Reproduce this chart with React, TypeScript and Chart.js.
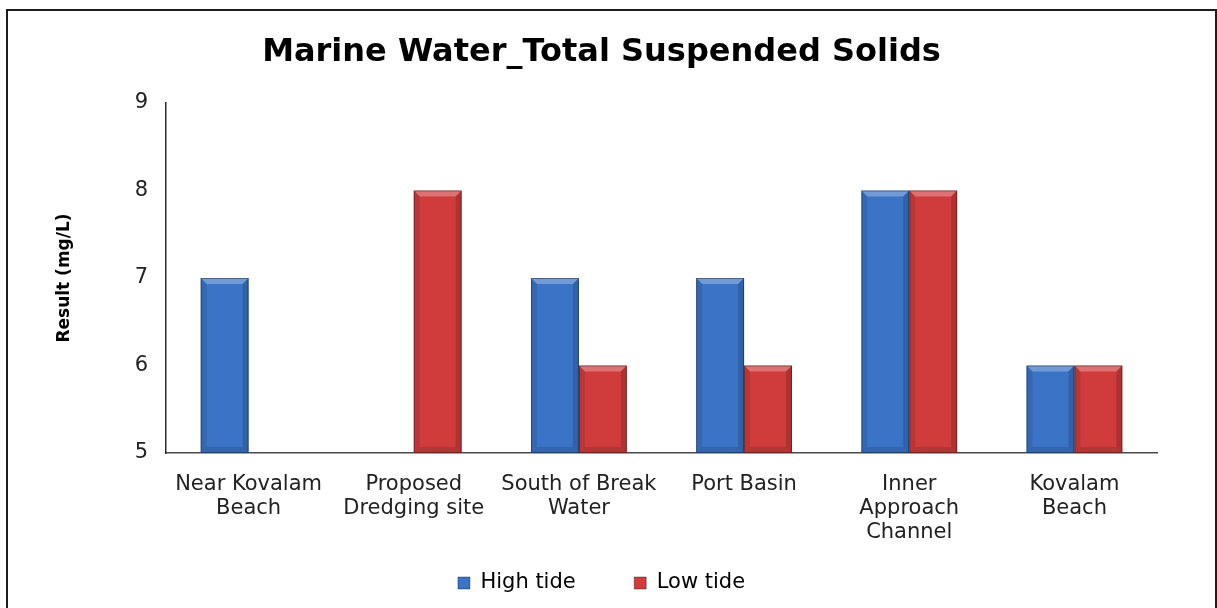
import React, { useEffect, useRef } from "react";
import { Chart, registerables } from "chart.js";

Chart.register(...registerables);

const categories: string[][] = [
  ["Near Kovalam", "Beach"],
  ["Proposed", "Dredging site"],
  ["South of Break", "Water"],
  ["Port Basin"],
  ["Inner", "Approach", "Channel"],
  ["Kovalam", "Beach"],
];
const highTide: (number | null)[] = [7, null, 7, 7, 8, 6];
const lowTide: (number | null)[] = [null, 8, 6, 6, 8, 6];
const yTicks: number[] = [5, 6, 7, 8, 9];

const FONT = "'DejaVu Sans', Verdana, sans-serif";
const BLUE = "#3b74c6";
const RED = "#d03c3c";

const frame = {
  id: "frame",
  afterDraw(chart: any) {
    const ctx = chart.ctx;
    ctx.save();
    ctx.strokeStyle = "#1c1c1c";
    ctx.lineWidth = 2;
    ctx.beginPath();
    ctx.moveTo(7, 620);
    ctx.lineTo(7, 10);
    ctx.lineTo(1216, 10);
    ctx.lineTo(1216, 620);
    ctx.stroke();
    ctx.restore();
  },
};

const bevel = {
  id: "bevel",
  afterDatasetsDraw(chart: any) {
    const ctx = chart.ctx;
    const area = chart.chartArea;
    chart.data.datasets.forEach((ds: any, di: number) => {
      const meta = chart.getDatasetMeta(di);
      meta.data.forEach((bar: any, i: number) => {
        if (ds.data[i] == null) return;
        const { x, y, base, width } = bar.getProps(["x", "y", "base", "width"], true);
        const l = x - width / 2;
        const r = x + width / 2;
        const t = Math.max(y, area.top);
        const b = Math.min(base, area.bottom);
        const s = 6;
        ctx.save();
        ctx.fillStyle = "rgba(255,255,255,0.28)";
        ctx.beginPath();
        ctx.moveTo(l, t);
        ctx.lineTo(r, t);
        ctx.lineTo(r - s, t + s);
        ctx.lineTo(l + s, t + s);
        ctx.closePath();
        ctx.fill();
        ctx.fillStyle = "rgba(0,0,0,0.10)";
        ctx.beginPath();
        ctx.moveTo(l, t);
        ctx.lineTo(l + s, t + s);
        ctx.lineTo(l + s, b - s);
        ctx.lineTo(l, b);
        ctx.closePath();
        ctx.fill();
        ctx.fillStyle = "rgba(0,0,0,0.16)";
        ctx.beginPath();
        ctx.moveTo(r, t);
        ctx.lineTo(r - s, t + s);
        ctx.lineTo(r - s, b - s);
        ctx.lineTo(r, b);
        ctx.closePath();
        ctx.fill();
        ctx.fillStyle = "rgba(0,0,0,0.13)";
        ctx.beginPath();
        ctx.moveTo(l, b);
        ctx.lineTo(l + s, b - s);
        ctx.lineTo(r - s, b - s);
        ctx.lineTo(r, b);
        ctx.closePath();
        ctx.fill();
        ctx.strokeStyle = "rgba(0,0,0,0.35)";
        ctx.lineWidth = 1;
        ctx.strokeRect(l + 0.5, t + 0.5, width - 1, b - t - 1);
        ctx.restore();
      });
    });
  },
};

export default function App() {
  const ref = useRef<HTMLCanvasElement | null>(null);
  useEffect(() => {
    document.body.style.margin = "0";
    document.body.style.overflow = "hidden";
    const chart = new Chart(ref.current as HTMLCanvasElement, {
      type: "bar",
      data: {
        labels: categories,
        datasets: [
          { label: "High tide", data: highTide, backgroundColor: BLUE, borderWidth: 0 },
          { label: "Low tide", data: lowTide, backgroundColor: RED, borderWidth: 0 },
        ],
      },
      options: {
        animation: false,
        responsive: false,
        maintainAspectRatio: false,
        devicePixelRatio: 1,
        layout: { padding: { left: 46, right: 60, top: 0, bottom: 4.5 } },
        datasets: { bar: { categoryPercentage: 0.58, barPercentage: 1 } },
        scales: {
          x: {
            grid: { display: false, drawTicks: false },
            border: { display: true, color: "#4a4a4a", width: 1.5 },
            ticks: {
              color: "#222",
              font: { family: FONT, size: 21, lineHeight: 24 / 21 },
              padding: 20,
              maxRotation: 0,
              autoSkip: false,
            },
            afterFit: (s: any) => {
              s.height = 61;
              s._computeLabelArea = () => undefined;
            },
          },
          y: {
            min: 5,
            max: 9,
            grid: { display: false, drawTicks: false },
            border: { display: true, color: "#2a2a2a", width: 1.5 },
            afterBuildTicks: (s: any) => {
              s.ticks = yTicks.map((v) => ({ value: v }));
            },
            ticks: {
              color: "#222",
              font: { family: FONT, size: 21 },
              padding: 18,
            },
            title: {
              display: true,
              text: "Result (mg/L)",
              color: "#000",
              font: { family: FONT, size: 17, weight: "bold" },
              padding: { top: 8.8, bottom: 4 },
            },
            afterFit: (s: any) => {
              s.width = 120;
            },
          },
        },
        plugins: {
          title: {
            display: true,
            text: "Marine Water_Total Suspended Solids",
            color: "#000",
            font: { family: FONT, size: 32, weight: "bold", lineHeight: 1.2 },
            padding: { top: 33.8, bottom: 30.8 },
          },
          legend: {
            position: "bottom",
            labels: {
              color: "#222",
              font: { family: FONT, size: 21 },
              boxWidth: 12,
              boxHeight: 12,
              padding: 58.5,
              generateLabels: (chart: any) =>
                chart.data.datasets.map((ds: any, i: number) => ({
                  text: ds.label,
                  fillStyle: ds.backgroundColor,
                  strokeStyle: "rgba(0,0,0,0.35)",
                  lineWidth: 1,
                  datasetIndex: i,
                  hidden: false,
                })),
            },
          },
          tooltip: { enabled: false },
        },
      },
      plugins: [bevel, frame],
    });
    return () => chart.destroy();
  }, []);
  return (
    <div style={{ position: "fixed", left: 0, top: 0, width: 1217, height: 608, background: "#fff" }}>
      <canvas ref={ref} width={1217} height={608} style={{ width: 1217, height: 608, display: "block" }} />
    </div>
  );
}
